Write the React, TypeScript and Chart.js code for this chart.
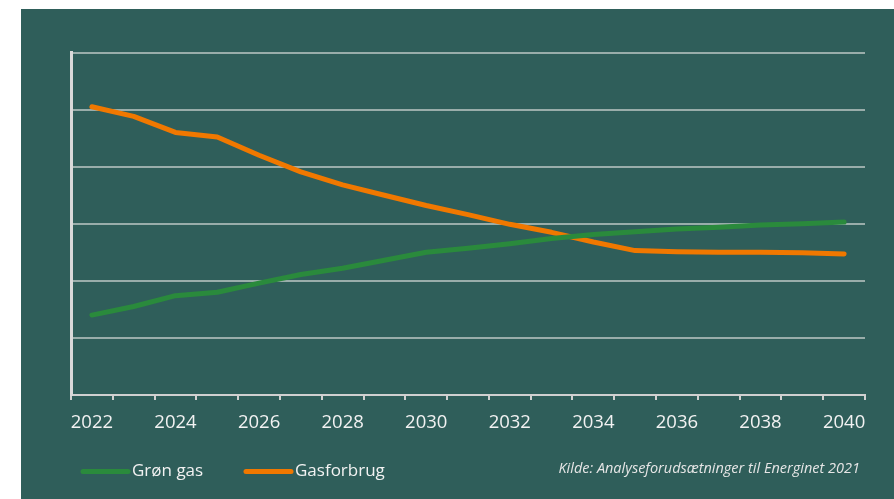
import React, { useEffect, useRef } from "react";
import { Chart, registerables } from "chart.js";

Chart.register(...registerables);

const years = ["2022","2023","2024","2025","2026","2027","2028","2029","2030","2031","2032","2033","2034","2035","2036","2037","2038","2039","2040"];
const gronGas = [1.40, 1.55, 1.74, 1.80, 1.96, 2.11, 2.22, 2.36, 2.50, 2.57, 2.65, 2.74, 2.81, 2.86, 2.91, 2.94, 2.98, 3.00, 3.03];
const gasforbrug = [5.05, 4.88, 4.60, 4.52, 4.20, 3.91, 3.68, 3.50, 3.32, 3.16, 2.99, 2.85, 2.68, 2.53, 2.51, 2.50, 2.50, 2.49, 2.47];
const seriesNames = ["Grøn gas", "Gasforbrug"];
const sourceText = "Kilde: Analyseforudsætninger til Energinet 2021";

const BG = "#2f5e5a";
const GREEN = "#2a8a3c";
const ORANGE = "#f07800";
const TEXT = "#f2f2f2";
const FONT = "'Open Sans', sans-serif";

const decorPlugin = {
  id: "decor",
  beforeDraw(chart: any) {
    const { ctx, width, height } = chart;
    ctx.save();
    ctx.fillStyle = BG;
    ctx.fillRect(0, 0, width, height);
    ctx.restore();
  },
  afterDraw(chart: any) {
    const { ctx, chartArea } = chart;
    const y = chartArea.bottom + 76.5;
    ctx.save();
    ctx.lineCap = "round";
    ctx.lineWidth = 5;
    ctx.font = `17px ${FONT}`;
    ctx.textBaseline = "middle";
    ctx.fillStyle = TEXT;
    const items = [
      { x: chartArea.left + 12, color: GREEN, label: chart.data.datasets[0].label },
      { x: chartArea.left + 175, color: ORANGE, label: chart.data.datasets[1].label },
    ];
    for (const it of items) {
      ctx.strokeStyle = it.color;
      ctx.beginPath();
      ctx.moveTo(it.x, y);
      ctx.lineTo(it.x + 45, y);
      ctx.stroke();
      ctx.fillText(it.label, it.x + 49, y);
    }
    ctx.font = `italic 14.5px ${FONT}`;
    ctx.textAlign = "right";
    ctx.fillStyle = "#e6e6e6";
    ctx.fillText(sourceText, chartArea.right - 5, y - 3);
    ctx.restore();
  },
};

export default function App() {
  const ref = useRef<HTMLCanvasElement | null>(null);
  useEffect(() => {
    if (!ref.current) return;
    const chart = new Chart(ref.current, {
      type: "line",
      data: {
        labels: years,
        datasets: [
          {
            label: seriesNames[0],
            data: gronGas,
            borderColor: GREEN,
            backgroundColor: GREEN,
            borderWidth: 5,
            pointRadius: 0,
            borderCapStyle: "round",
            borderJoinStyle: "round",
            tension: 0,
          },
          {
            label: seriesNames[1],
            data: gasforbrug,
            borderColor: ORANGE,
            backgroundColor: ORANGE,
            borderWidth: 5,
            pointRadius: 0,
            borderCapStyle: "round",
            borderJoinStyle: "round",
            tension: 0,
          },
        ],
      },
      options: {
        animation: false,
        responsive: false,
        maintainAspectRatio: false,
        layout: { padding: { top: 43.5, right: 29, left: 0, bottom: 0 } },
        plugins: { legend: { display: false }, tooltip: { enabled: false } },
        scales: {
          x: {
            type: "category",
            offset: true,
            afterFit: (scale: any) => { scale.height = 104; },
            grid: {
              display: true,
              drawOnChartArea: false,
              drawTicks: true,
              tickLength: 5,
              color: "#d0d0d0",
              lineWidth: 2,
              offset: true,
            },
            border: { display: true, color: "#d0d0d0", width: 2 },
            ticks: {
              autoSkip: false,
              maxRotation: 0,
              color: TEXT,
              font: { family: FONT, size: 18.5 },
              padding: 12,
              callback: (_v: any, i: number) => (i % 2 === 0 ? years[i] : ""),
            },
          },
          y: {
            min: 0,
            max: 6,
            afterFit: (scale: any) => { scale.width = 50; },
            grid: { color: "rgba(190,200,198,0.75)", lineWidth: 2, drawTicks: false },
            border: { display: true, color: "#d9d9d9", width: 3 },
            ticks: { display: false, stepSize: 1 },
          },
        },
      },
      plugins: [decorPlugin],
    });
    return () => chart.destroy();
  }, []);
  return (
    <div style={{ position: "absolute", left: 21, top: 9, width: 873, height: 490 }}>
      <canvas ref={ref} width={873} height={490} style={{ width: 873, height: 490, display: "block" }} />
    </div>
  );
}
